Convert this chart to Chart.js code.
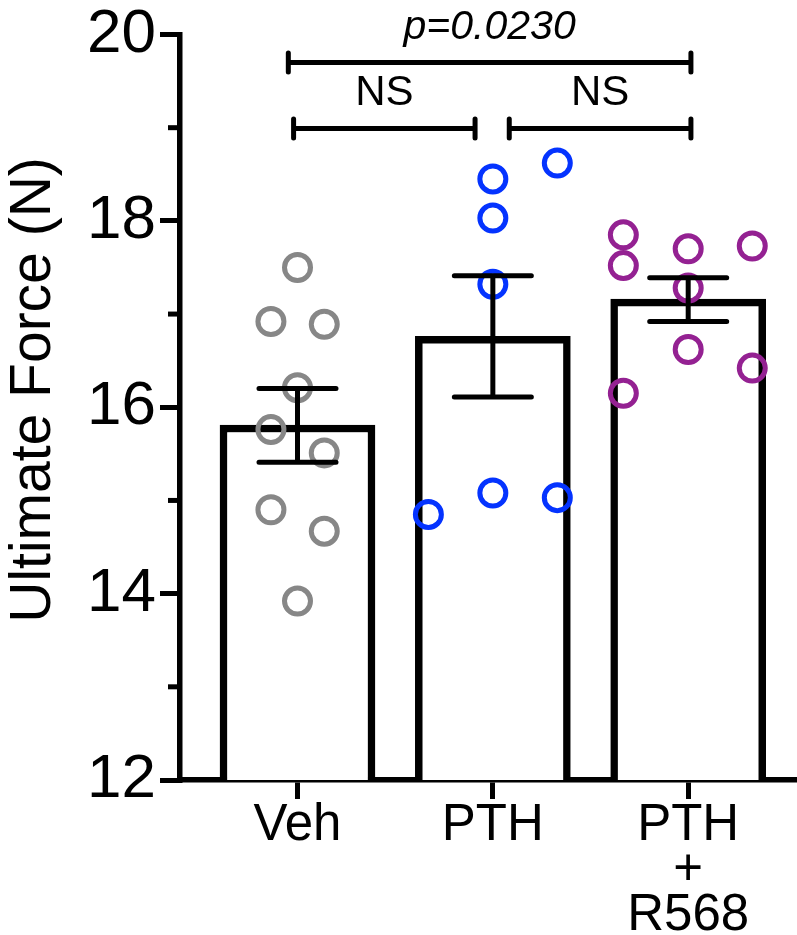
<!DOCTYPE html>
<html>
<head>
<meta charset="utf-8">
<script src="https://cdn.jsdelivr.net/npm/chart.js@4.4.1/dist/chart.umd.min.js"></script>
<style>
html,body{margin:0;padding:0;background:#fff;overflow:hidden}
#wrap{width:797px;height:935px;position:relative}
canvas{display:block}
</style>
</head>
<body>
<div id="wrap"><canvas id="c"></canvas></div>
<script>
// ---- data ----
const categories = ['Veh', 'PTH', 'PTH\n+\nR568'];
const means   = [15.81, 16.76, 17.16];
const semLow  = [15.41, 16.11, 16.92];
const semHigh = [16.20, 17.41, 17.39];

const vehValues  = [17.50, 16.92, 16.89, 16.21, 15.76, 15.51, 14.90, 14.67, 13.92];
const vehJitter  = [0, -0.136, 0.137, 0, -0.136, 0.137, -0.136, 0.137, 0];
const pthValues  = [18.62, 18.45, 18.03, 17.32, 15.08, 15.03, 14.85];
const pthJitter  = [0.33, 0, 0, 0, 0, 0.33, -0.33];
const r568Values = [17.85, 17.52, 17.70, 17.73, 17.28, 16.62, 16.15, 16.42];
const r568Jitter = [-0.332, -0.332, 0, 0.328, 0, 0, -0.332, 0.328];

const yTicks      = [12, 14, 16, 18, 20];
const yMinorTicks = [13, 15, 17, 19];
const yAxisTitle  = 'Ultimate Force (N)';

// significance brackets (x in group units, level in N)
const compLabels = ['p=0.0230', 'NS', 'NS'];
const compFrom   = [-0.047, -0.02, 1.084];
const compTo     = [2.014, 0.909, 2.014];
const compLevel  = [19.70, 18.99, 18.99];
const compItalic = [true, false, false];

// ---- styling ----
const FONT = "'Liberation Sans', Arial, Helvetica, sans-serif";
const groupColors = ['#878787', '#0433FF', '#942192'];

function pts(values, jitter, g) {
  return values.map((v, k) => ({x: g + jitter[k], y: v}));
}

const overlay = {
  id: 'overlay',
  afterDatasetsDraw(chart) {
    const {ctx, scales: {x, y}} = chart;
    ctx.save();
    ctx.strokeStyle = '#000';
    ctx.lineWidth = 5;
    means.forEach((m, i) => {
      const px = x.getPixelForValue(i);
      const lo = y.getPixelForValue(semLow[i]);
      const hi = y.getPixelForValue(semHigh[i]);
      ctx.lineCap = 'butt';
      ctx.beginPath();
      ctx.moveTo(px, lo); ctx.lineTo(px, hi);
      ctx.stroke();
      ctx.lineCap = 'round';
      ctx.beginPath();
      ctx.moveTo(px - 38.5, lo); ctx.lineTo(px + 38.5, lo);
      ctx.moveTo(px - 38.5, hi); ctx.lineTo(px + 38.5, hi);
      ctx.stroke();
    });
    ctx.restore();
  },
  afterDraw(chart) {
    const {ctx, scales: {x, y}, chartArea} = chart;
    ctx.save();
    ctx.strokeStyle = '#000';
    ctx.fillStyle = '#000';
    ctx.lineWidth = 5;
    ctx.lineCap = 'butt';
    // minor y ticks
    yMinorTicks.forEach(v => {
      const py = y.getPixelForValue(v);
      ctx.beginPath();
      ctx.moveTo(chartArea.left - 12, py);
      ctx.lineTo(chartArea.left, py);
      ctx.stroke();
    });
    // brackets
    ctx.lineCap = 'round';
    compLabels.forEach((lab, i) => {
      const x1 = x.getPixelForValue(compFrom[i]);
      const x2 = x.getPixelForValue(compTo[i]);
      const py = y.getPixelForValue(compLevel[i]);
      ctx.beginPath();
      ctx.moveTo(x1, py); ctx.lineTo(x2, py);
      ctx.moveTo(x1, py - 9.5); ctx.lineTo(x1, py + 9.5);
      ctx.moveTo(x2, py - 9.5); ctx.lineTo(x2, py + 9.5);
      ctx.stroke();
      ctx.font = (compItalic[i] ? 'italic 41px ' : '42px ') + FONT;
      ctx.textAlign = 'center';
      ctx.textBaseline = 'middle';
      ctx.fillText(lab, (x1 + x2) / 2, py - 35);
    });
    // y axis title
    ctx.translate(34, 390);
    ctx.rotate(-Math.PI / 2);
    ctx.font = '57px ' + FONT;
    ctx.textAlign = 'center';
    ctx.textBaseline = 'middle';
    ctx.fillText(yAxisTitle, 0, 0);
    ctx.restore();
  }
};

new Chart(document.getElementById('c'), {
  type: 'bar',
  data: {
    datasets: [
      {
        type: 'bar',
        data: means.map((m, i) => ({x: i, y: m})),
        backgroundColor: '#ffffff',
        borderColor: '#000000',
        borderWidth: 7.5,
        borderSkipped: 'start',
        barThickness: 155,
        order: 3
      },
      {
        type: 'scatter',
        data: pts(vehValues, vehJitter, 0),
        pointStyle: 'circle', pointRadius: 13, pointBorderWidth: 5,
        pointBorderColor: groupColors[0], pointBackgroundColor: 'rgba(0,0,0,0)',
        showLine: false, order: 1
      },
      {
        type: 'scatter',
        data: pts(pthValues, pthJitter, 1),
        pointStyle: 'circle', pointRadius: 13, pointBorderWidth: 5,
        pointBorderColor: groupColors[1], pointBackgroundColor: 'rgba(0,0,0,0)',
        showLine: false, order: 1
      },
      {
        type: 'scatter',
        data: pts(r568Values, r568Jitter, 2),
        pointStyle: 'circle', pointRadius: 13, pointBorderWidth: 5,
        pointBorderColor: groupColors[2], pointBackgroundColor: 'rgba(0,0,0,0)',
        showLine: false, order: 1
      }
    ]
  },
  options: {
    responsive: true,
    maintainAspectRatio: false,
    animation: false,
    layout: {autoPadding: false, padding: {top: 34.5, left: 0, right: 0, bottom: 0}},
    plugins: {legend: {display: false}, tooltip: {enabled: false}},
    scales: {
      x: {
        type: 'linear',
        min: -0.6015,
        max: 2.557,
        offset: false,
        afterBuildTicks: s => { s.ticks = categories.map((c, i) => ({value: i})); },
        afterFit: s => { s.height = 155; s.paddingLeft = 0; s.paddingRight = 0; },
        ticks: {
          autoSkip: false, maxRotation: 0, minRotation: 0,
          padding: 4, color: '#000',
          font: {family: FONT, size: 51, lineHeight: 45 / 51},
          callback: v => categories[Math.round(v)].split('\n')
        },
        grid: {drawOnChartArea: false, offset: false, tickLength: 19, lineWidth: 5, tickWidth: 5, color: '#000', tickColor: '#000'},
        border: {display: true, color: '#000', width: 5.5}
      },
      y: {
        type: 'linear',
        min: 12,
        max: 20,
        afterBuildTicks: s => { s.ticks = yTicks.map(v => ({value: v})); },
        afterFit: s => { s.width = 180; s.paddingTop = 0; s.paddingBottom = 0; },
        ticks: {padding: 4, color: '#000', font: {family: FONT, size: 62}},
        grid: {drawOnChartArea: false, tickLength: 20, lineWidth: 5, tickWidth: 5, color: '#000', tickColor: '#000'},
        border: {display: true, color: '#000', width: 5.5},
        title: {display: false, text: yAxisTitle}
      }
    }
  },
  plugins: [overlay]
});
</script>
</body>
</html>
